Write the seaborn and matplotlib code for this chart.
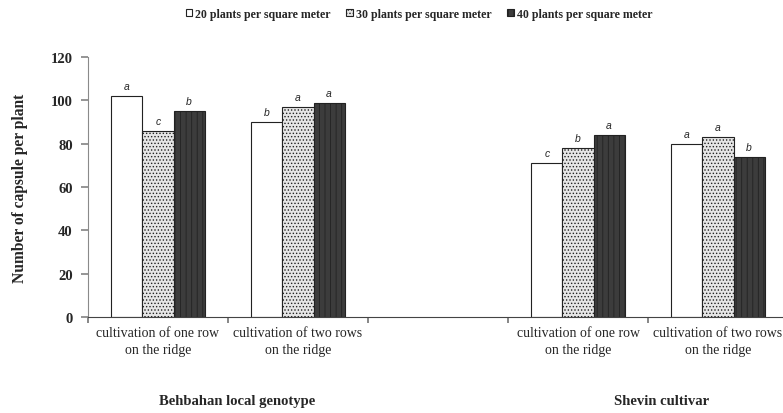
import numpy as np
import pandas as pd
import seaborn as sns
import matplotlib.pyplot as plt
from matplotlib.patches import Patch

sns.set_theme(style="white")
plt.rcParams['font.family'] = ['Liberation Serif', 'DejaVu Serif']
plt.rcParams['hatch.linewidth'] = 0.6

# Category slots along the x axis (an empty slot separates the two genotypes)
slots = ["B1", "B2", "gap", "S1", "S2"]
slot_labels = ["cultivation of one row\non the ridge",
               "cultivation of two rows\non the ridge",
               "",
               "cultivation of one row\non the ridge",
               "cultivation of two rows\non the ridge"]
densities = ["20 plants per square meter",
             "30 plants per square meter",
             "40 plants per square meter"]
treatments = ["B1", "B2", "S1", "S2"]
capsules_20 = [102, 90, 71, 80]
capsules_30 = [86, 97, 78, 83]
capsules_40 = [95, 99, 84, 74]
letters_20 = ["a", "b", "c", "a"]
letters_30 = ["c", "a", "b", "a"]
letters_40 = ["b", "a", "a", "b"]
genotypes = ["Behbahan local genotype", "Shevin cultivar"]
y_ticks = [0, 20, 40, 60, 80, 100, 120]

rows = []
for dens, vals, lets in zip(densities,
                            [capsules_20, capsules_30, capsules_40],
                            [letters_20, letters_30, letters_40]):
    for t, v, l in zip(treatments, vals, lets):
        rows.append({"slot": t, "density": dens, "capsules": v, "letter": l})
df = pd.DataFrame(rows)

styles = [
    dict(facecolor="white", hatch=None),
    dict(facecolor="#e6e6e6", hatch="....."),
    dict(facecolor="#3c3c3c", hatch="|||"),
]

fig = plt.figure(figsize=(7.83, 4.14), dpi=100)
ax = fig.add_axes([88 / 783, 1 - 318 / 414, 700 / 783, 260 / 414])

sns.barplot(data=df, x="slot", y="capsules", hue="density",
            order=slots, hue_order=densities, width=0.667, gap=0,
            dodge=True, errorbar=None, palette=["white"] * 3,
            edgecolor="#222222", linewidth=0.8, legend=False, ax=ax)

letter_lookup = {(r.slot, r.density): r.letter for r in df.itertuples()}
for cont, dens, st in zip(ax.containers, densities, styles):
    for bar in cont:
        bar.set_facecolor(st["facecolor"])
        if st["hatch"]:
            bar.set_hatch(st["hatch"])
        xc = bar.get_x() + bar.get_width() / 2
        slot = slots[int(round(xc))]
        ax.annotate(letter_lookup[(slot, dens)], (xc, bar.get_height()),
                    xytext=(0, 3.5), textcoords="offset points",
                    ha="center", va="bottom", fontsize=7.5, style="italic",
                    family=["Liberation Sans", "DejaVu Sans"])

ax.set_xlim(-0.5, 4.5)
ax.set_ylim(0, 120)
ax.set_yticks(y_ticks)
ax.set_yticklabels([str(v) for v in y_ticks], fontsize=10.5, fontweight="bold")
ax.set_xticks(np.arange(-0.5, 5.0, 1.0))
ax.set_xticklabels([])
ax.set_xticks(np.arange(5), minor=True)
ax.set_xticklabels(slot_labels, minor=True, fontsize=10, linespacing=1.4)
ax.tick_params(axis="x", which="major", length=4, color="#777777", direction="out", bottom=True)
ax.tick_params(axis="x", which="minor", length=0, pad=6.5)
ax.tick_params(axis="y", length=5, color="#888888", direction="out", left=True, pad=6)
ax.set_xlabel("")
ax.set_ylabel("Number of capsule per plant", fontsize=11.2, fontweight="bold")
ax.yaxis.set_label_coords(-0.086, 0.5)

for side in ["top", "right"]:
    ax.spines[side].set_visible(False)
ax.spines["left"].set_color("#8a8a8a")
ax.spines["bottom"].set_color("#444444")
ax.spines["left"].set_linewidth(0.8)
ax.spines["bottom"].set_linewidth(0.8)

fig.text(237 / 783, 1 - 402 / 414, genotypes[0], ha="center", va="center",
         fontsize=10.5, fontweight="bold")
fig.text(662 / 783, 1 - 402 / 414, genotypes[1], ha="center", va="center",
         fontsize=10.5, fontweight="bold")

handles = [Patch(facecolor=st["facecolor"], hatch=st["hatch"], edgecolor="#222222",
                 linewidth=0.8) for st in styles]
fig.legend(handles, densities, loc="center", bbox_to_anchor=(0.535, 1 - 15 / 414),
           ncol=3, frameon=False, prop={"weight": "bold", "size": 8.6},
           handlelength=0.55, handleheight=0.55, handletextpad=0.25,
           columnspacing=1.3, borderaxespad=0)

fig.savefig("out.png", dpi=100)
